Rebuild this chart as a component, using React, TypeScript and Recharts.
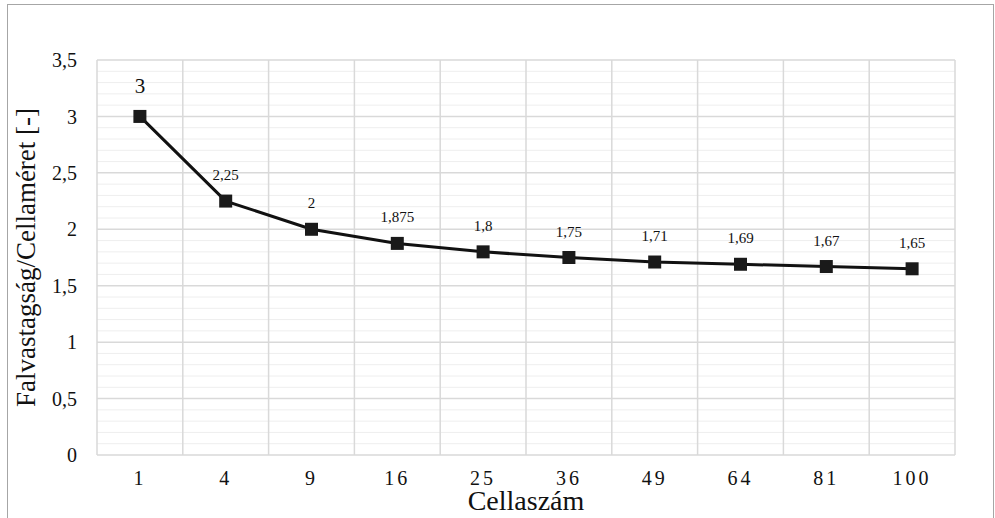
import {
  CartesianGrid,
  LabelList,
  Line,
  LineChart,
  ReferenceLine,
  XAxis,
  YAxis,
} from "recharts";

const cellCounts = ["1", "4", "9", "16", "25", "36", "49", "64", "81", "100"];
const ratios = [3, 2.25, 2, 1.875, 1.8, 1.75, 1.71, 1.69, 1.67, 1.65];
const ratioLabels = ["3", "2,25", "2", "1,875", "1,8", "1,75", "1,71", "1,69", "1,67", "1,65"];
const yTicks = [0, 0.5, 1, 1.5, 2, 2.5, 3, 3.5];
const minorLines = [
  0.1, 0.2, 0.3, 0.4, 0.6, 0.7, 0.8, 0.9, 1.1, 1.2, 1.3, 1.4, 1.6, 1.7, 1.8,
  1.9, 2.1, 2.2, 2.3, 2.4, 2.6, 2.7, 2.8, 2.9, 3.1, 3.2, 3.3, 3.4,
];
const categoryEdges = [0.5, 1.5, 2.5, 3.5, 4.5, 5.5, 6.5, 7.5, 8.5, 9.5, 10.5];

const data = cellCounts.map((cells, i) => ({
  pos: i + 1,
  cells,
  ratio: ratios[i],
  label: ratioLabels[i],
}));

const FONT = "Liberation Serif";

function SquareDot(props: any) {
  const { cx, cy, index } = props;
  if (cx == null || cy == null) return null;
  return (
    <rect key={`dot-${index}`} x={cx - 6.5} y={cy - 6.5} width={13} height={13} fill="#1a1a1a" />
  );
}

function PointLabel(props: any) {
  const { x, y, value, index } = props;
  const first = index === 0;
  return (
    <text
      x={x}
      y={y - (first ? 23 : 21)}
      textAnchor="middle"
      fontFamily={FONT}
      fontSize={first ? 21 : 15}
      fill="#111"
    >
      {value}
    </text>
  );
}

export default function App() {
  return (
    <div
      style={{
        position: "absolute",
        left: 0,
        top: 0,
        width: 995,
        height: 518,
        overflow: "hidden",
        background: "#fff",
        fontFamily: FONT,
      }}
    >
      <div
        style={{
          position: "absolute",
          left: 7,
          top: 4,
          width: 985,
          height: 600,
          border: "1px solid #a6a6a6",
        }}
      />
      <div style={{ position: "absolute", left: 0, top: 0 }}>
        <LineChart
          width={995}
          height={518}
          data={data}
          margin={{ top: 60, right: 40, bottom: 0, left: 37 }}
        >
          <CartesianGrid stroke="#d9d9d9" strokeWidth={1.5} vertical={false} />
          {minorLines.map((v) => (
            <ReferenceLine key={`m-${v}`} y={v} stroke="#eeeeee" strokeWidth={1} />
          ))}
          {categoryEdges.map((v) => (
            <ReferenceLine key={`c-${v}`} x={v} stroke="#d9d9d9" strokeWidth={1.5} />
          ))}
          <XAxis
            dataKey="pos"
            type="number"
            domain={[0.5, 10.5]}
            ticks={data.map((d) => d.pos)}
            tickFormatter={(v) => cellCounts[v - 1]}
            axisLine={false}
            tickLine={false}
            tickSize={0}
            tickMargin={16}
            height={63}
            tick={{ fill: "#111", fontSize: 20, fontFamily: FONT, letterSpacing: 3 }}
            label={{
              value: "Cellaszám",
              position: "insideBottom",
              offset: 8,
              fill: "#111",
              fontSize: 28,
              fontFamily: FONT,
            }}
          />
          <YAxis
            type="number"
            domain={[0, 3.5]}
            ticks={yTicks}
            tickFormatter={(v) => String(v).replace(".", ",")}
            axisLine={false}
            tickLine={false}
            tickSize={0}
            tickMargin={20}
            width={60}
            tick={{ fill: "#111", fontSize: 20, fontFamily: FONT }}
            label={{
              value: "Falvastagság/Cellaméret [-]",
              angle: -90,
              position: "insideLeft",
              offset: -12,
              style: { textAnchor: "middle" },
              fill: "#111",
              fontSize: 27,
              fontFamily: FONT,
            }}
          />
          <Line
            dataKey="ratio"
            stroke="#111"
            strokeWidth={3}
            dot={<SquareDot />}
            activeDot={false}
            isAnimationActive={false}
          >
            <LabelList dataKey="label" content={<PointLabel />} />
          </Line>
        </LineChart>
      </div>
    </div>
  );
}
